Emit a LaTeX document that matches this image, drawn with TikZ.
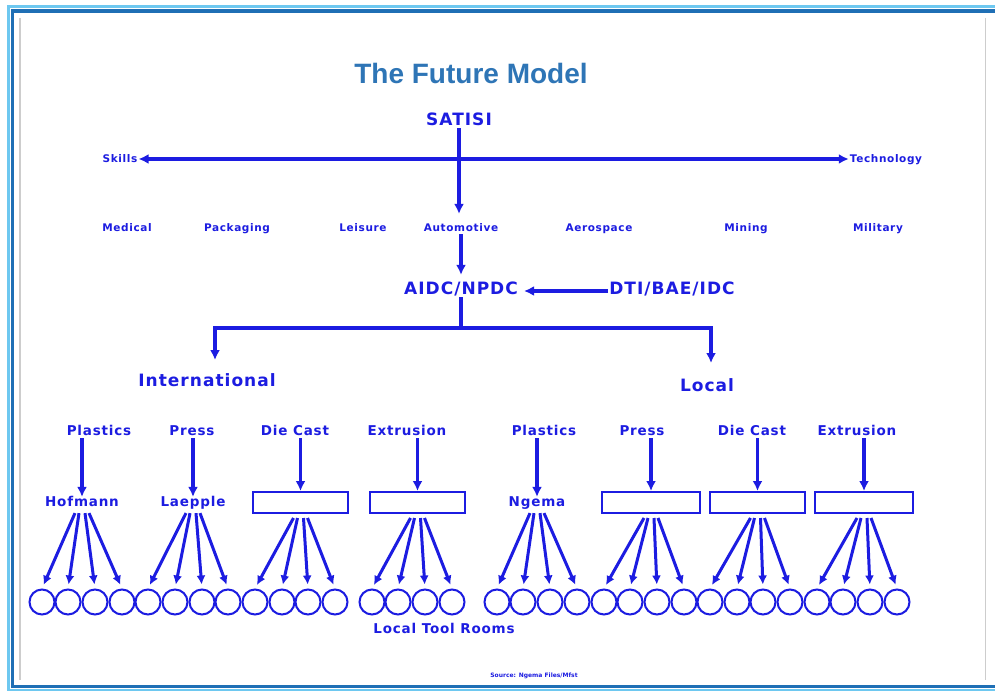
\documentclass[tikz,border=0pt]{standalone}
\usepackage{fontspec}
\setmainfont{DejaVu Sans}
\newfontfamily\titlefont{Liberation Sans}
\usetikzlibrary{arrows.meta}
\definecolor{ink}{RGB}{28,28,225}
\definecolor{titleblue}{RGB}{46,117,182}
\definecolor{framedark}{RGB}{31,111,181}
\definecolor{framelight}{RGB}{110,200,240}
\definecolor{framegray}{RGB}{205,205,205}
\begin{document}
\begin{tikzpicture}[x=1pt,y=-1pt,
  lbig/.style={text=ink, inner sep=1pt, text height=1.5ex, text depth=.3ex,
    font=\fontsize{17}{19}\selectfont\bfseries\addfontfeature{LetterSpace=6}},
  lmid/.style={text=ink, inner sep=1pt, text height=1.5ex, text depth=.3ex,
    font=\fontsize{13.5}{15}\selectfont\bfseries\addfontfeature{LetterSpace=6}},
  lsmall/.style={text=ink, inner sep=1pt, text height=1.5ex, text depth=.3ex,
    font=\fontsize{10.5}{12}\selectfont\bfseries\addfontfeature{LetterSpace=6}},
  ttl/.style={text=titleblue, inner sep=0pt, font=\titlefont\fontsize{28}{32}\selectfont\bfseries},
  srcnote/.style={text=ink, inner sep=0pt, font=\fontsize{6}{7}\selectfont\bfseries},
  ebox/.style={draw=ink, line width=2pt, minimum height=21pt, inner sep=0pt},
  room/.style={draw=ink, line width=2pt, circle, minimum size=25pt, inner sep=0pt},
  wire/.style={draw=ink, line width=3.4pt},
  arr/.style={draw=ink, line width=3.4pt, -{Latex[length=10pt,width=10pt]}},
  darr/.style={draw=ink, line width=3.4pt, {Latex[length=10pt,width=10pt]}-{Latex[length=10pt,width=10pt]}},
  fan/.style={draw=ink, line width=3pt, -{Latex[length=9pt,width=9pt]}, shorten >=4pt}
]
\clip (0,0) rectangle (995,692);
\useasboundingbox (0,0) rectangle (995,692);
\fill[white] (0,0) rectangle (995,692);
% frame (right side lies outside the picture)
\draw[framelight, line width=2.5pt] (1000,6.5) -- (8.5,6.5) -- (8.5,690) -- (1000,690);
\draw[framedark, line width=3.5pt] (1000,11) -- (12.5,11) -- (12.5,686.5) -- (1000,686.5);
\draw[framegray, line width=1.5pt] (20,18) -- (20,680);
\draw[framegray, line width=1pt] (985,18) -- (985,680);

% title
\node[ttl] (title) at (471,73) {The Future Model};
\node[lbig] (satisi) at (459,122) {SATISI};
\node[lsmall] (skills) at (120,159) {Skills};
\node[lsmall] (tech) at (886,159) {Technology};

\node[lsmall] (med) at (127,228) {Medical};
\node[lsmall] (pack) at (237,228) {Packaging};
\node[lsmall] (leis) at (363,228) {Leisure};
\node[lsmall] (auto) at (461,228) {Automotive};
\node[lsmall] (aero) at (599,228) {Aerospace};
\node[lsmall] (mine) at (746,228) {Mining};
\node[lsmall] (mil) at (878,228) {Military};

\node[lbig] (aidc) at (461,291) {AIDC/NPDC};
\node[lbig] (dti) at (672,291) {DTI/BAE/IDC};

\node[lbig] (intl) at (207,383) {International};
\node[lbig] (local) at (707,388) {Local};

% categories
\node[lmid] (pl1) at (99,432) {Plastics};
\node[lmid] (pr1) at (192,432) {Press};
\node[lmid] (dc1) at (295,432) {Die Cast};
\node[lmid] (ex1) at (407,432) {Extrusion};
\node[lmid] (pl2) at (544,432) {Plastics};
\node[lmid] (pr2) at (642,432) {Press};
\node[lmid] (dc2) at (752,432) {Die Cast};
\node[lmid] (ex2) at (857,432) {Extrusion};

% companies / boxes
\node[lmid] (hof) at (82,503) {Hofmann};
\node[lmid] (lae) at (193,503) {Laepple};
\node[ebox, minimum width=95pt] (box3) at (300.5,502.5) {};
\node[ebox, minimum width=95pt] (box4) at (417.5,502.5) {};
\node[lmid] (ngema) at (537,503) {Ngema};
\node[ebox, minimum width=98pt] (box6) at (651,502.5) {};
\node[ebox, minimum width=95pt] (box7) at (757.5,502.5) {};
\node[ebox, minimum width=98pt] (box8) at (864,502.5) {};

% circles
\foreach \xx [count=\i] in {42,68,95,122,148,175,202,228,255,282,308,335,372,398,425,452,
                            497,523,550,577,604,630,657,684,710,737,763,790,817,843,870,897}
  \node[room] (c\i) at (\xx,602) {};

\node[lmid] (ltr) at (444,630) {Local Tool Rooms};
\node[srcnote] (src) at (534,676) {Source: Ngema Files/Mfst};

% connectors
\draw[darr] (skills.east) -- (tech.west);
\draw[arr, shorten >=8pt] (satisi.south) -- (satisi.south |- auto.north);
\draw[arr, shorten >=10pt] (auto.south) -- (aidc.north);
\draw[arr, shorten >=5pt] (dti.west) -- (aidc.east);
\coordinate (split) at (461,328);
\coordinate (intltip) at (215,360);
\coordinate (localtip) at (711,363);
\draw[wire] (aidc.south) -- (split);
\draw[arr] (split) -| (intltip);
\draw[arr] (split) -| (localtip);

\draw[arr] (pl1.south -| hof.north) -- (hof.north);
\draw[arr] (pr1.south -| lae.north) -- (lae.north);
\draw[arr] (dc1.south -| box3.north) -- (box3.north);
\draw[arr] (ex1.south -| box4.north) -- (box4.north);
\draw[arr] (pl2.south -| ngema.north) -- (ngema.north);
\draw[arr] (pr2.south -| box6.north) -- (box6.north);
\draw[arr] (dc2.south -| box7.north) -- (box7.north);
\draw[arr] (ex2.south -| box8.north) -- (box8.north);

\foreach \s [count=\g from 0] in {hof,lae,box3,box4,ngema,box6,box7,box8} {
  \foreach \k/\dx in {1/-7,2/-3,3/3,4/7} {
    \pgfmathtruncatemacro\ci{4*\g+\k}
    \draw[fan] ([xshift=\dx pt, yshift=-4pt]\s.south) -- (c\ci.north);
  }
}
\end{tikzpicture}
\end{document}
